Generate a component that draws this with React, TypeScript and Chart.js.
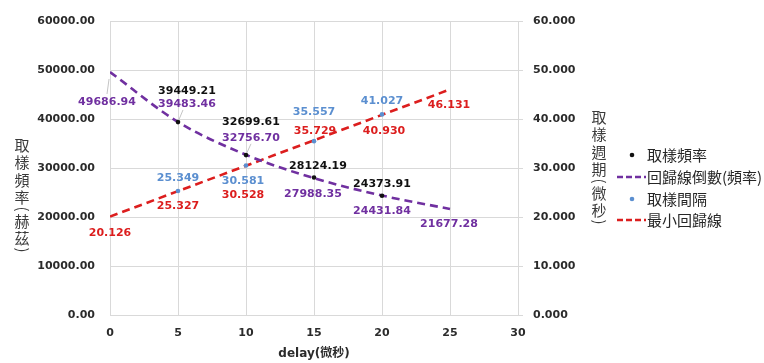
import React, { useEffect, useRef } from 'react';
import { Chart, registerables } from 'chart.js';

Chart.register(...registerables);

// ---- data ----
const delays = [0, 5, 10, 15, 20, 25];
const sampleDelays = [5, 10, 15, 20];
const sampleFrequency = [39449.21, 32699.61, 28124.19, 24373.91];
const regressionFrequency = [49686.94, 39483.46, 32756.7, 27988.35, 24431.84, 21677.28];
const sampleInterval = [25.349, 30.581, 35.557, 41.027];
const regressionInterval = [20.126, 25.327, 30.528, 35.729, 40.93, 46.131];
const seriesNames = ['取樣頻率', '回歸線倒數(頻率)', '取樣間隔', '最小回歸線'];
const leftTitle = '取樣頻率(赫茲)';
const rightTitle = '取樣週期(微秒)';
const xTitle = 'delay(微秒)';

// ---- styles ----
const BLACK = '#111111';
const PURPLE = '#7030a0';
const BLUE = '#5b8fd0';
const RED = '#dc1e1e';
const GRID = '#d9d9d9';
const TICK = '#2b2b2b';
const LABEL_COLORS = [BLACK, PURPLE, BLUE, RED];
const LABEL_OFFSETS: number[][][] = [
  [[9, -31], [5, -33], [4, -11], [0, -12]],
  [[-3, 30], [9, -18], [5, -17], [-1, 16], [0, 16], [-1, 15]],
  [[0, -13], [-3, 16], [0, -29], [0, -13]],
  [[0, 17], [0, 15], [-3, 29], [1, -9], [2, 16], [-1, 16]],
];
const TICK_FONT = { family: '"DejaVu Sans", sans-serif', size: 11, weight: 'bold' as const };
const CJK = '"Noto Sans CJK TC", "Noto Sans CJK SC", sans-serif';

function drawVertical(ctx: CanvasRenderingContext2D, text: string, cx: number, startY: number) {
  let y = startY;
  for (const ch of text) {
    if (ch === '(' || ch === ')') {
      ctx.save();
      ctx.translate(cx + 1, y + 3);
      ctx.rotate(Math.PI / 2);
      ctx.fillText(ch, 0, 0);
      ctx.restore();
      y += 6;
    } else {
      ctx.fillText(ch, cx, y + 9);
      y += 17.5;
    }
  }
}

const overlayPlugin = {
  id: 'overlay',
  afterDatasetsDraw(chart: any) {
    const ctx: CanvasRenderingContext2D = chart.ctx;
    ctx.save();
    chart.data.datasets.forEach((ds: any, di: number) => {
      const meta = chart.getDatasetMeta(di);
      meta.data.forEach((el: any, j: number) => {
        const v = ds.data[j].y as number;
        const text = di < 2 ? v.toFixed(2) : v.toFixed(3);
        const [dx, dy] = LABEL_OFFSETS[di][j];
        const lx = el.x + dx;
        const ly = el.y + dy;
        if (di === 1 && j < 3) {
          const sx = lx + (j === 1 ? -4 : 0);
          const sy = j === 0 ? ly - 8 : ly + 6;
          const vx = el.x - sx;
          const vy = el.y - sy;
          const L = Math.hypot(vx, vy);
          const k = Math.max(0, (L - (j === 0 ? 7 : 2)) / L);
          ctx.strokeStyle = '#c4c4c4';
          ctx.lineWidth = 1;
          ctx.setLineDash([]);
          ctx.beginPath();
          ctx.moveTo(sx, sy);
          ctx.lineTo(sx + vx * k, sy + vy * k);
          ctx.stroke();
        }
        ctx.font = 'bold 11px "DejaVu Sans", sans-serif';
        ctx.fillStyle = LABEL_COLORS[di];
        ctx.textAlign = 'center';
        ctx.textBaseline = 'middle';
        ctx.fillText(text, lx, ly);
      });
    });
    ctx.restore();
  },
  afterDraw(chart: any) {
    const ctx: CanvasRenderingContext2D = chart.ctx;
    ctx.save();
    // axis titles (stacked vertical text)
    ctx.font = `15px ${CJK}`;
    ctx.fillStyle = '#3a3a3a';
    ctx.textAlign = 'center';
    ctx.textBaseline = 'middle';
    drawVertical(ctx, leftTitle, 22, 136);
    drawVertical(ctx, rightTitle, 599, 108);

    // legend
    const rows = [155, 177, 199, 220];
    const kinds = ['dot', 'line', 'dot', 'line'];
    const colors = [BLACK, PURPLE, BLUE, RED];
    rows.forEach((y, i) => {
      if (kinds[i] === 'dot') {
        ctx.fillStyle = colors[i];
        ctx.beginPath();
        ctx.arc(632, y, 2.3, 0, Math.PI * 2);
        ctx.fill();
      } else {
        ctx.strokeStyle = colors[i];
        ctx.lineWidth = 2.5;
        ctx.setLineDash([6, 3]);
        ctx.beginPath();
        ctx.moveTo(617, y);
        ctx.lineTo(646, y);
        ctx.stroke();
        ctx.setLineDash([]);
      }
      ctx.fillStyle = '#262626';
      ctx.font = `15px ${CJK}`;
      ctx.textAlign = 'left';
      ctx.textBaseline = 'middle';
      ctx.fillText(seriesNames[i], 647, y);
    });
    ctx.restore();
  },
};

export default function App() {
  const canvasRef = useRef<HTMLCanvasElement | null>(null);

  useEffect(() => {
    const canvas = canvasRef.current;
    if (!canvas) return;
    const chart = new Chart(canvas, {
      type: 'line',
      data: {
        datasets: [
          {
            label: seriesNames[0],
            data: sampleDelays.map((x, i) => ({ x, y: sampleFrequency[i] })),
            yAxisID: 'yFreq',
            showLine: false,
            pointRadius: 2.3,
            pointBackgroundColor: BLACK,
            pointBorderWidth: 0,
            borderColor: BLACK,
          },
          {
            label: seriesNames[1],
            data: delays.map((x, i) => ({ x, y: regressionFrequency[i] })),
            yAxisID: 'yFreq',
            borderColor: PURPLE,
            borderWidth: 2.6,
            borderDash: [8, 5],
            pointRadius: 0,
            cubicInterpolationMode: 'monotone',
            fill: false,
          },
          {
            label: seriesNames[2],
            data: sampleDelays.map((x, i) => ({ x, y: sampleInterval[i] })),
            yAxisID: 'yPeriod',
            showLine: false,
            pointRadius: 2.3,
            pointBackgroundColor: BLUE,
            pointBorderWidth: 0,
            borderColor: BLUE,
          },
          {
            label: seriesNames[3],
            data: delays.map((x, i) => ({ x, y: regressionInterval[i] })),
            yAxisID: 'yPeriod',
            borderColor: RED,
            borderWidth: 2.6,
            borderDash: [8, 5],
            pointRadius: 0,
            tension: 0,
            fill: false,
          },
        ],
      },
      options: {
        animation: false,
        responsive: false,
        devicePixelRatio: 1,
        layout: { padding: { top: 15, left: 0, right: 0, bottom: 0 } },
        plugins: {
          legend: { display: false },
          tooltip: { enabled: false },
        },
        scales: {
          x: {
            type: 'linear',
            min: 0,
            max: 30,
            ticks: { stepSize: 5, padding: 12, font: TICK_FONT, color: TICK },
            grid: { color: GRID, drawTicks: false },
            border: { color: GRID },
            title: {
              display: true,
              text: xTitle,
              color: TICK,
              font: { family: `"DejaVu Sans", ${CJK}`, size: 12, weight: 'bold' },
              padding: { top: 0, bottom: 2 },
            },
            afterFit: (s: any) => {
              s.height = 48;
            },
          },
          yFreq: {
            type: 'linear',
            position: 'left',
            min: 0,
            max: 60000,
            ticks: {
              stepSize: 10000,
              padding: 15,
              font: TICK_FONT,
              color: TICK,
              callback: (v: any) => Number(v).toFixed(2),
            },
            grid: { color: GRID, drawTicks: false },
            border: { display: false },
            afterFit: (s: any) => {
              s.width = 110;
            },
          },
          yPeriod: {
            type: 'linear',
            position: 'right',
            min: 0,
            max: 60,
            ticks: {
              stepSize: 10,
              padding: 10,
              font: TICK_FONT,
              color: TICK,
              callback: (v: any) => Number(v).toFixed(3),
            },
            grid: { color: GRID, drawOnChartArea: false, drawTicks: true, tickLength: 5 },
            border: { color: GRID },
            afterFit: (s: any) => {
              s.width = 246;
            },
          },
        },
      },
      plugins: [overlayPlugin],
    } as any);
    return () => chart.destroy();
  }, []);

  return (
    <div style={{ position: 'fixed', left: 0, top: 0, width: 764, height: 363, background: '#fff' }}>
      <canvas ref={canvasRef} width={764} height={363} style={{ display: 'block', width: 764, height: 363 }} />
    </div>
  );
}
